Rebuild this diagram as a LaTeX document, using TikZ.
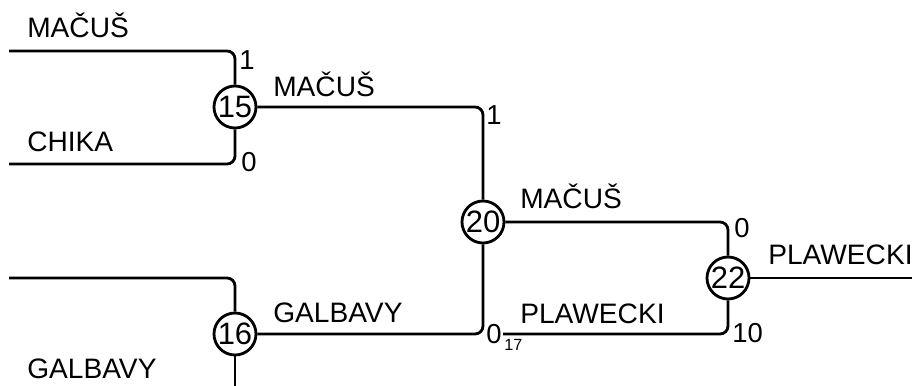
\documentclass[tikz,border=0pt]{standalone}
\usepackage{fontspec}
\setmainfont{Liberation Sans}

\begin{document}
\begin{tikzpicture}[x=0.025cm, y=-0.025cm,
    game/.style={draw, circle, line width=2pt, minimum size=1.05cm,
                 inner sep=0pt, font=\fontsize{22}{22}\selectfont},
    team/.style={anchor=base west, inner sep=0pt,
                 font=\fontsize{20}{20}\selectfont},
    score/.style={anchor=base west, inner sep=0pt,
                  font=\fontsize{19.5}{19}\selectfont},
    seed/.style={anchor=base west, inner sep=0pt,
                 font=\fontsize{11.5}{11}\selectfont},
    link/.style={line width=2pt, rounded corners=0.2cm}
]
\useasboundingbox (0,0) rectangle (912,386);
% matches
\node[game] (g15) at (235,107) {15};
\node[game] (g16) at (235,334) {16};
\node[game] (g20) at (483,222) {20};
\node[game] (g22) at (728,278) {22};
% free ends
\coordinate (in15a) at (9,51);
\coordinate (in15b) at (9,164);
\coordinate (in16a) at (9,278);
\coordinate (in16b) at (235,386);
\coordinate (in22b) at (503,334);
\coordinate (out22) at (912,278);
\draw[link] (in15a) -| (g15.north);
\draw[link] (in15b) -| (g15.south);
\draw[link] (in16a) -| (g16.north);
\draw[link] (g16.south) -- (in16b);
\draw[link] (g15.east) -| (g20.north);
\draw[link] (g16.east) -| (g20.south);
\draw[link] (g20.east) -| (g22.north);
\draw[link] (in22b) -| (g22.south);
\draw[link] (g22.east) -- (out22);
% teams
\node[team] (t1) at (27,38) {MAČUŠ};
\node[team] (t2) at (27,152) {CHIKA};
\node[team] (t3) at (27,378) {GALBAVY};
\node[team] (t4) at (273,97) {MAČUŠ};
\node[team] (t5) at (273,322) {GALBAVY};
\node[team] (t6) at (520,208) {MAČUŠ};
\node[team] (t7) at (520,323) {PLAWECKI};
\node[team] (t8) at (768,264) {PLAWECKI};
% scores
\node[score] (s1) at (239,70) {1};
\node[score] (s2) at (241,172) {0};
\node[score] (s3) at (486,125) {1};
\node[score] (s4) at (486,343) {0};
\node[seed] (s5) at (504,350) {17};
\node[score] (s6) at (734,238) {0};
\node[score] (s7) at (732,342) {10};
\end{tikzpicture}
\end{document}
